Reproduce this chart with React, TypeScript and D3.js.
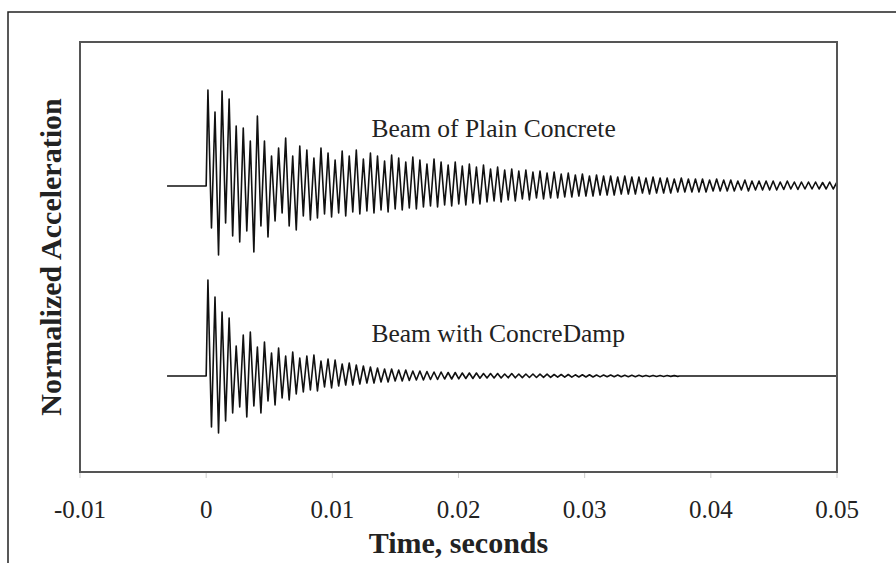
import React from 'react'
import * as d3 from 'd3'

const width = 896
const height = 563
const margin = { left: 80, right: 59, top: 42, bottom: 91 }
const serif = '"Liberation Serif", "Times New Roman", serif'

const timeTicks = [-0.01, 0, 0.01, 0.02, 0.03, 0.04, 0.05]
const cyclePeriod = 0.00056 // one ripple
const triggerTime = -0.0031 // flat record before the impact at t = 0

// peak / trough of each cycle, normalized acceleration
const plainPeaks = [
  0.96, 0.74, 0.95, 0.87, 0.60, 0.58, 0.45, 0.70, 0.45, 0.30,
  0.38, 0.48, 0.30, 0.40, 0.36, 0.28, 0.38, 0.33, 0.26, 0.35,
  0.30, 0.36, 0.27, 0.33, 0.30, 0.25, 0.31, 0.28, 0.24, 0.29,
  0.26, 0.22, 0.27, 0.24, 0.21, 0.24, 0.20, 0.22, 0.19, 0.21,
  0.17, 0.19, 0.16, 0.17, 0.15, 0.16, 0.14, 0.15, 0.13, 0.14,
  0.12, 0.13, 0.11, 0.12, 0.10, 0.11, 0.10, 0.10, 0.09, 0.10,
  0.09, 0.09, 0.08, 0.09, 0.08, 0.08, 0.07, 0.08, 0.07, 0.07,
  0.07, 0.06, 0.07, 0.06, 0.06, 0.05, 0.06, 0.05, 0.05, 0.05,
  0.05, 0.04, 0.05, 0.04, 0.04, 0.04, 0.04, 0.035, 0.04, 0.035,
]
const plainTroughs = [
  -0.42, -0.69, -0.37, -0.50, -0.56, -0.45, -0.66, -0.40, -0.51, -0.35,
  -0.27, -0.40, -0.44, -0.30, -0.34, -0.32, -0.28, -0.31, -0.27, -0.30,
  -0.26, -0.28, -0.25, -0.27, -0.24, -0.26, -0.23, -0.24, -0.22, -0.23,
  -0.21, -0.20, -0.21, -0.19, -0.20, -0.18, -0.19, -0.17, -0.18, -0.16,
  -0.15, -0.16, -0.14, -0.15, -0.13, -0.14, -0.12, -0.13, -0.12, -0.12,
  -0.11, -0.11, -0.10, -0.10, -0.10, -0.09, -0.09, -0.09, -0.08, -0.08,
  -0.08, -0.07, -0.08, -0.07, -0.07, -0.07, -0.06, -0.06, -0.06, -0.06,
  -0.06, -0.05, -0.05, -0.05, -0.05, -0.04, -0.05, -0.04, -0.04, -0.04,
  -0.04, -0.035, -0.03, -0.035, -0.03, -0.03, -0.03, -0.03, -0.03, -0.03,
]
const dampPeaks = [
  0.96, 0.79, 0.64, 0.58, 0.30, 0.41, 0.44, 0.29, 0.34, 0.23,
  0.28, 0.20, 0.24, 0.18, 0.20, 0.21, 0.15, 0.17, 0.16, 0.12,
  0.13, 0.11, 0.10, 0.09, 0.08, 0.07, 0.07, 0.06, 0.06, 0.05,
  0.05, 0.045, 0.04, 0.04, 0.035, 0.035, 0.03, 0.03, 0.03, 0.025,
  0.025, 0.025, 0.02, 0.025, 0.02, 0.02, 0.02, 0.018, 0.018, 0.015,
  0.015, 0.015, 0.012, 0.012, 0.012, 0.01, 0.01, 0.01, 0.01, 0.008,
  0.008, 0.008, 0.006, 0.006, 0.005, 0.005, 0.004,
]
const dampTroughs = [
  -0.51, -0.57, -0.45, -0.37, -0.31, -0.41, -0.30, -0.37, -0.25, -0.29,
  -0.22, -0.24, -0.18, -0.16, -0.14, -0.15, -0.11, -0.12, -0.10, -0.09,
  -0.09, -0.08, -0.07, -0.07, -0.06, -0.06, -0.05, -0.05, -0.045, -0.04,
  -0.04, -0.035, -0.035, -0.03, -0.03, -0.028, -0.025, -0.025, -0.022, -0.02,
  -0.02, -0.02, -0.018, -0.018, -0.016, -0.015, -0.015, -0.014, -0.013, -0.012,
  -0.012, -0.011, -0.01, -0.01, -0.01, -0.009, -0.008, -0.008, -0.008, -0.007,
  -0.007, -0.006, -0.006, -0.005, -0.005, -0.004, -0.004,
]

// vertical stacking of the two records
const plainOffset = 2.86
const dampOffset = 0.96

function trace(peaks: number[], troughs: number[], offset: number) {
  const pts: [number, number][] = [[triggerTime, 0], [0, 0]]
  peaks.forEach((p, i) => {
    pts.push([i * cyclePeriod + cyclePeriod / 4, p])
    pts.push([i * cyclePeriod + (3 * cyclePeriod) / 4, troughs[i]])
  })
  pts.push([peaks.length * cyclePeriod, 0], [0.05, 0])
  return pts.map(([t, v]) => [t, v + offset] as [number, number])
}

export default function App() {
  const x = d3.scaleLinear().domain([-0.01, 0.05]).range([margin.left, width - margin.right])
  const y = d3.scaleLinear().domain([0, 4.3]).range([height - margin.bottom, margin.top])
  const line = d3.line<[number, number]>().x(d => x(d[0])).y(d => y(d[1]))

  const plotW = width - margin.left - margin.right
  const plotH = height - margin.top - margin.bottom
  const bottom = height - margin.bottom

  return (
    <svg width={width} height={height} style={{ position: 'absolute', left: 0, top: 0, background: '#fff' }}>
      <defs>
        <clipPath id="plot">
          <rect x={margin.left} y={margin.top} width={plotW} height={plotH} />
        </clipPath>
      </defs>
      <rect x={8} y={12} width={920} height={600} fill="none" stroke="#222" strokeWidth={1.5} />

      <g clipPath="url(#plot)" fill="none" stroke="#111" strokeWidth={1.6} strokeLinejoin="round">
        <path d={line(trace(plainPeaks, plainTroughs, plainOffset)) ?? ''} />
        <path d={line(trace(dampPeaks, dampTroughs, dampOffset)) ?? ''} />
      </g>

      <rect x={margin.left} y={margin.top} width={plotW} height={plotH} fill="none" stroke="#555" strokeWidth={2} />

      {timeTicks.map(t => (
        <g key={t}>
          <line x1={x(t)} x2={x(t)} y1={bottom + 1} y2={bottom + 6} stroke="#ccc" />
          <text x={x(t)} y={518} textAnchor="middle" fontFamily={serif} fontSize={25} fill="#222">
            {String(t)}
          </text>
        </g>
      ))}

      <text x={x(0.0131)} y={y(plainOffset) - 49} fontFamily={serif} fontSize={25.5} fill="#222">
        Beam of Plain Concrete
      </text>
      <text x={x(0.0131)} y={y(dampOffset) - 34} fontFamily={serif} fontSize={25.5} fill="#222">
        Beam with ConcreDamp
      </text>

      <text x={(margin.left + width - margin.right) / 2} y={553} textAnchor="middle"
        fontFamily={serif} fontSize={30} fontWeight="bold" fill="#222">
        Time, seconds
      </text>
      <text transform={`translate(61, ${(margin.top + bottom) / 2}) rotate(-90)`} textAnchor="middle"
        fontFamily={serif} fontSize={30} fontWeight="bold" fill="#222">
        Normalized Acceleration
      </text>
    </svg>
  )
}
